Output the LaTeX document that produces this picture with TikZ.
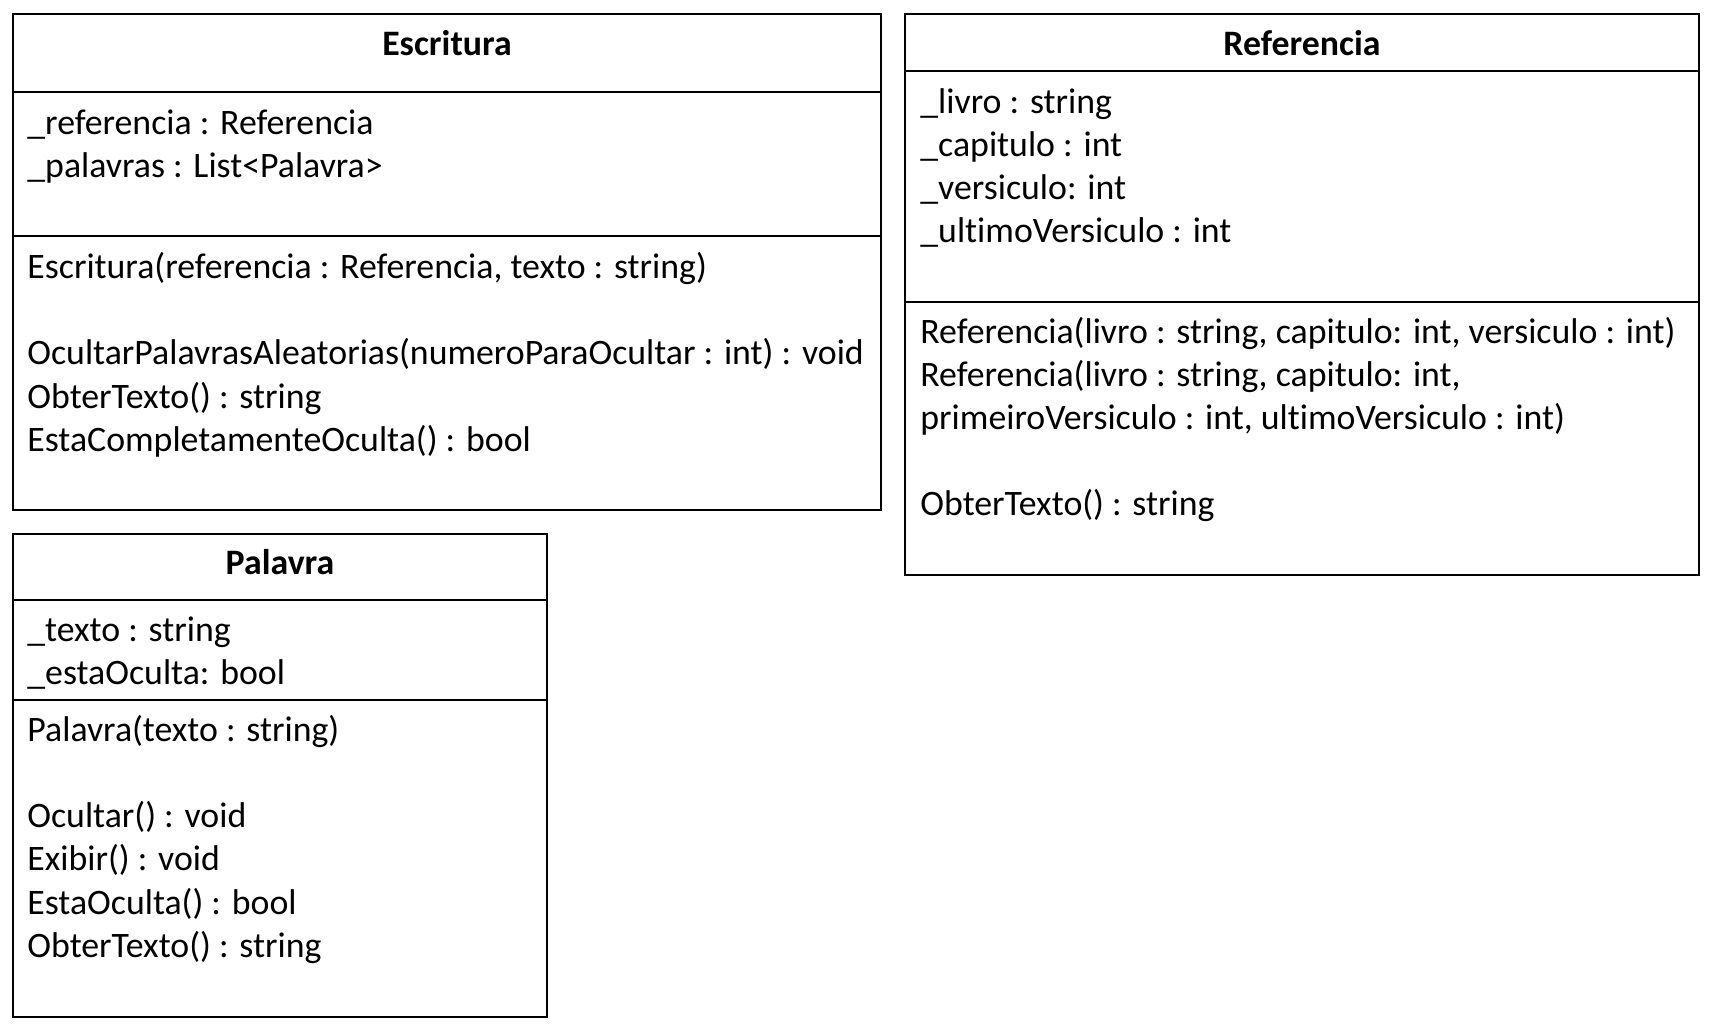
\documentclass[tikz,border=0pt]{standalone}
\usepackage{fontspec}
\setmainfont[Ligatures=NoCommon]{Carlito}
\usetikzlibrary{positioning}

\begin{document}
\begin{tikzpicture}[x=0.5pt,y=-0.5pt]
\tikzset{
  classbox/.style={draw,line width=1pt,rectangle,anchor=north west,inner sep=0pt,outer sep=0pt},
  classtitle/.style={font=\fontsize{17.9}{21.6}\selectfont\bfseries,anchor=base,inner sep=0pt},
  member/.style={font=\fontsize{17.9}{21.6}\selectfont,anchor=base west,inner sep=0pt},
  divider/.style={line width=1pt}
}
\useasboundingbox (0,0) rectangle (1722,1034);
% classes
\node[classbox,minimum width=434pt,minimum height=248pt] (escritura) at (13,14) {};
\node[classbox,minimum width=397pt,minimum height=280.5pt] (referencia) at (905,14) {};
\node[classbox,minimum width=267pt,minimum height=241.5pt] (palavra) at (13,534) {};
\draw[divider] (escritura.west |- 0,92) -- (escritura.east |- 0,92);
\draw[divider] (escritura.west |- 0,236) -- (escritura.east |- 0,236);
\draw[divider] (referencia.west |- 0,71) -- (referencia.east |- 0,71);
\draw[divider] (referencia.west |- 0,302) -- (referencia.east |- 0,302);
\draw[divider] (palavra.west |- 0,600) -- (palavra.east |- 0,600);
\draw[divider] (palavra.west |- 0,700) -- (palavra.east |- 0,700);
% Escritura
\node[classtitle] (esc_t) at (escritura.north |- 0,55) {Escritura};
\node[member] (esc_a1) at (27,134) {\_referencia : Referencia};
\node[member] (esc_a2) at (27,177) {\_palavras : List<Palavra>};
\node[member] (esc_m1) at (27,278) {Escritura(referencia : Referencia, texto : string)};
\node[member] (esc_m2) at (27,364) {OcultarPalavrasAleatorias(numeroParaOcultar : int) : void};
\node[member] (esc_m3) at (27,408) {ObterTexto() : string};
\node[member] (esc_m4) at (27,451) {EstaCompletamenteOculta() : bool};
% Referencia
\node[classtitle] (ref_t) at (referencia.north |- 0,55) {Referencia};
\node[member] (ref_a1) at (920,113) {\_livro : string};
\node[member] (ref_a2) at (920,156) {\_capitulo : int};
\node[member] (ref_a3) at (920,199) {\_versiculo: int};
\node[member] (ref_a4) at (920,242) {\_ultimoVersiculo : int};
\node[member] (ref_m1) at (920,343) {Referencia(livro : string, capitulo: int, versiculo : int)};
\node[member] (ref_m2) at (920,386) {Referencia(livro : string, capitulo: int,};
\node[member] (ref_m3) at (920,429) {primeiroVersiculo : int, ultimoVersiculo : int)};
\node[member] (ref_m4) at (920,515) {ObterTexto() : string};
% Palavra
\node[classtitle] (pal_t) at (palavra.north |- 0,574) {Palavra};
\node[member] (pal_a1) at (27,641) {\_texto : string};
\node[member] (pal_a2) at (27,684) {\_estaOculta: bool};
\node[member] (pal_m1) at (27,741) {Palavra(texto : string)};
\node[member] (pal_m2) at (27,827) {Ocultar() : void};
\node[member] (pal_m3) at (27,870) {Exibir() : void};
\node[member] (pal_m4) at (27,914) {EstaOculta() : bool};
\node[member] (pal_m5) at (27,957) {ObterTexto() : string};
\end{tikzpicture}
\end{document}
